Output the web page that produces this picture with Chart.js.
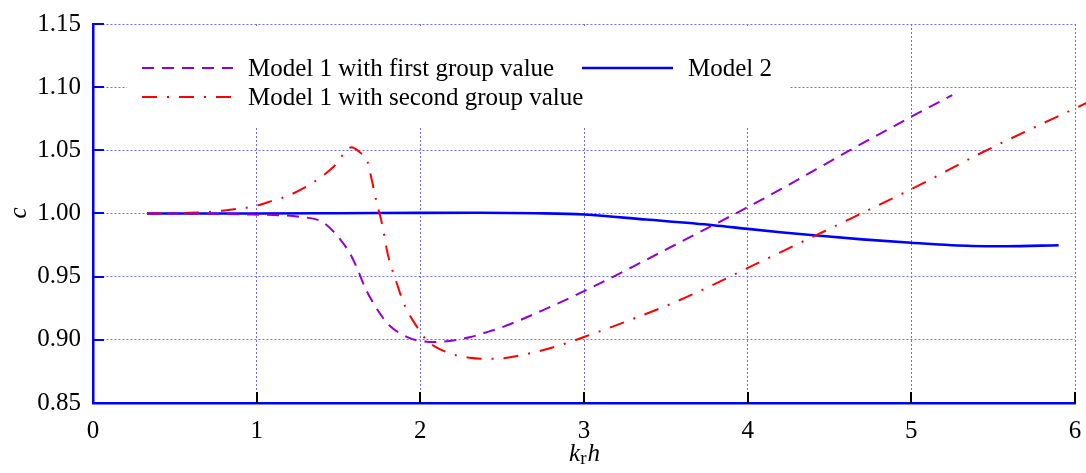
<!DOCTYPE html>
<html>
<head>
<meta charset="utf-8">
<script src="https://cdn.jsdelivr.net/npm/chart.js@4.4.0/dist/chart.umd.min.js"></script>
<style>
  html, body { margin: 0; padding: 0; background: #ffffff; }
  #wrap { width: 1086px; height: 473px; position: relative; }
</style>
</head>
<body>
<div id="wrap"><canvas id="chart" width="1086" height="473"></canvas></div>
<script>
// Phase speed c against dimensionless wavenumber k_r h

// Model 1 with first group value
const khFirst = [0.33, 0.6, 0.9, 1.1, 1.26, 1.4, 1.49, 1.57, 1.61, 1.67, 1.74, 1.81, 1.92, 1.98, 2.1, 2.18, 2.3, 2.4, 2.5, 2.75, 3.0, 3.3, 3.59, 4.0, 4.2, 4.62, 5.0, 5.25];
const cFirst  = [1.0, 1.0, 0.9993, 0.9988, 0.9974, 0.9934, 0.9828, 0.9683, 0.9577, 0.9392, 0.9234, 0.9115, 0.9022, 0.8996, 0.8983, 0.8991, 0.902, 0.9058, 0.91, 0.9235, 0.9385, 0.958, 0.9775, 1.005, 1.019, 1.0497, 1.0766, 1.0937];

// Model 1 with second group value
const khSecond = [0.33, 0.59, 0.74, 0.86, 0.97, 1.09, 1.2, 1.35, 1.47, 1.58, 1.64, 1.67, 1.70, 1.73, 1.77, 1.80, 1.85, 1.90, 1.98, 2.04, 2.16, 2.30, 2.45, 2.64, 2.87, 3.0, 3.32, 3.55, 3.77, 3.98, 4.2, 4.63, 5.07, 5.42, 6.07];
const cSecond  = [1.0, 1.0005, 1.0016, 1.0034, 1.0053, 1.0098, 1.0145, 1.025, 1.037, 1.0525, 1.0475, 1.044, 1.0285, 1.0106, 0.9894, 0.9683, 0.9472, 0.9287, 0.9101, 0.8996, 0.8903, 0.8859, 0.885, 0.8885, 0.8964, 0.9022, 0.9176, 0.9295, 0.9424, 0.9556, 0.9693, 0.996, 1.0238, 1.0475, 1.0875];

// Model 2
const khModel2 = [0.33, 1.0, 1.5, 2.0, 2.36, 2.7, 3.0, 3.38, 3.79, 4.0, 4.2, 4.42, 4.7, 5.0, 5.37, 5.58, 5.9];
const cModel2  = [1.0, 1.0, 1.0002, 1.0005, 1.0006, 1.0002, 0.9992, 0.9952, 0.9907, 0.9878, 0.9852, 0.9826, 0.9795, 0.9768, 0.9743, 0.9741, 0.9749];

const seriesNames = ['Model 1 with first group value', 'Model 1 with second group value', 'Model 2'];
const xTicks = [0, 1, 2, 3, 4, 5, 6];
const yTicks = [0.85, 0.90, 0.95, 1.00, 1.05, 1.10, 1.15];

const SERIF = 'Liberation Serif';
const GRID = '#6c6cff';

Chart.defaults.font.family = SERIF;
Chart.defaults.font.size = 25;
Chart.defaults.color = '#000000';

const toPoints = (xs, ys) => xs.map((x, i) => ({ x: x, y: ys[i] }));

const datasets = [
  {
    label: seriesNames[0],
    data: toPoints(khFirst, cFirst),
    borderColor: '#9400d3',
    borderWidth: 2,
    borderDash: [12, 8],
    cubicInterpolationMode: 'monotone',
    pointRadius: 0,
    fill: false
  },
  {
    label: seriesNames[1],
    data: toPoints(khSecond, cSecond),
    borderColor: '#ff0000',
    borderWidth: 2,
    borderDash: [15, 10, 2, 10],
    cubicInterpolationMode: 'monotone',
    pointRadius: 0,
    fill: false,
    clip: false
  },
  {
    label: seriesNames[2],
    data: toPoints(khModel2, cModel2),
    borderColor: '#0000ff',
    borderWidth: 2.6,
    cubicInterpolationMode: 'monotone',
    pointRadius: 0,
    fill: false
  }
];

// Boxed legend laid over the grid, in two columns
const boxLegend = {
  id: 'boxLegend',
  beforeDatasetsDraw(chart) {
    const ctx = chart.ctx;
    const ds = chart.data.datasets;
    ctx.save();
    ctx.fillStyle = '#ffffff';
    ctx.fillRect(127, 28, 662, 100);
    const entries = [
      { i: 0, x: 142, y: 68 },
      { i: 1, x: 142, y: 97 },
      { i: 2, x: 582, y: 68 }
    ];
    ctx.font = '25px "' + SERIF + '"';
    ctx.textBaseline = 'middle';
    ctx.textAlign = 'left';
    entries.forEach(e => {
      const d = ds[e.i];
      ctx.save();
      ctx.strokeStyle = d.borderColor;
      ctx.lineWidth = d.borderWidth;
      ctx.setLineDash(d.borderDash || []);
      ctx.beginPath();
      ctx.moveTo(e.x, e.y);
      ctx.lineTo(e.x + 91, e.y);
      ctx.stroke();
      ctx.restore();
      ctx.fillStyle = '#000000';
      ctx.fillText(d.label, e.x + 106, e.y + 1);
    });
    ctx.restore();
  }
};

// Inward tick marks and the axis titles
const axisDecor = {
  id: 'axisDecor',
  afterDraw(chart) {
    const ctx = chart.ctx;
    const xs = chart.scales.x, ys = chart.scales.y;
    const area = chart.chartArea;
    ctx.save();
    ctx.lineWidth = 2;
    ctx.strokeStyle = '#0000ff';
    yTicks.forEach(v => {
      const py = Math.round(ys.getPixelForValue(v));
      ctx.beginPath();
      ctx.moveTo(area.left, py);
      ctx.lineTo(area.left + 11, py);
      ctx.stroke();
    });
    ctx.strokeStyle = '#000000';
    xTicks.forEach(v => {
      if (v === xs.min) return;
      const px = Math.round(xs.getPixelForValue(v));
      ctx.beginPath();
      ctx.moveTo(px, area.bottom);
      ctx.lineTo(px, area.bottom - 11);
      ctx.stroke();
    });

    // x title: k_r h
    ctx.fillStyle = '#000000';
    ctx.textBaseline = 'alphabetic';
    ctx.textAlign = 'left';
    const cx = (area.left + area.right) / 2;
    const parts = [
      { t: 'k', f: 'italic 25px "' + SERIF + '"', dy: 0 },
      { t: 'r', f: '19px "' + SERIF + '"', dy: 3 },
      { t: 'h', f: 'italic 25px "' + SERIF + '"', dy: 0 }
    ];
    let total = 0;
    parts.forEach(p => { ctx.font = p.f; p.w = ctx.measureText(p.t).width; total += p.w; });
    let x = cx - total / 2;
    parts.forEach(p => { ctx.font = p.f; ctx.fillText(p.t, x, 461 + p.dy); x += p.w + (p.t === 'r' ? 1 : 0); });

    // y title: c
    ctx.translate(19, 213);
    ctx.rotate(-Math.PI / 2);
    ctx.font = 'italic 25px "' + SERIF + '"';
    ctx.textAlign = 'center';
    ctx.textBaseline = 'middle';
    ctx.fillText('c', 0, 0);
    ctx.restore();
  }
};

new Chart(document.getElementById('chart'), {
  type: 'line',
  data: { datasets: datasets },
  plugins: [boxLegend, axisDecor],
  options: {
    responsive: false,
    animation: false,
    devicePixelRatio: 1,
    layout: { padding: { left: 0, right: 11, top: 24, bottom: 0 } },
    plugins: { legend: { display: false }, tooltip: { enabled: false } },
    scales: {
      x: {
        type: 'linear',
        min: 0, max: 6,
        afterFit: s => { s.height = 70; s.paddingLeft = 0; s.paddingRight = 0; },
        afterBuildTicks: s => { s.ticks = xTicks.map(v => ({ value: v })); },
        ticks: {
          font: { family: SERIF, size: 25 },
          color: '#000000',
          padding: 13,
          maxRotation: 0,
          callback: v => String(v)
        },
        grid: { color: GRID, lineWidth: 1, drawTicks: false },
        border: { color: '#0000ff', width: 2.5, dash: [2, 2] }
      },
      y: {
        type: 'linear',
        min: 0.85, max: 1.15,
        afterFit: s => { s.width = 93; s.paddingTop = 0; s.paddingBottom = 0; },
        afterBuildTicks: s => { s.ticks = yTicks.map(v => ({ value: v })); },
        ticks: {
          font: { family: SERIF, size: 25 },
          color: '#000000',
          padding: 12,
          callback: v => Number(v).toFixed(2)
        },
        grid: { color: GRID, lineWidth: 1, drawTicks: false },
        border: { color: '#0000ff', width: 2.5, dash: [2, 2] }
      }
    }
  }
});
</script>
</body>
</html>
